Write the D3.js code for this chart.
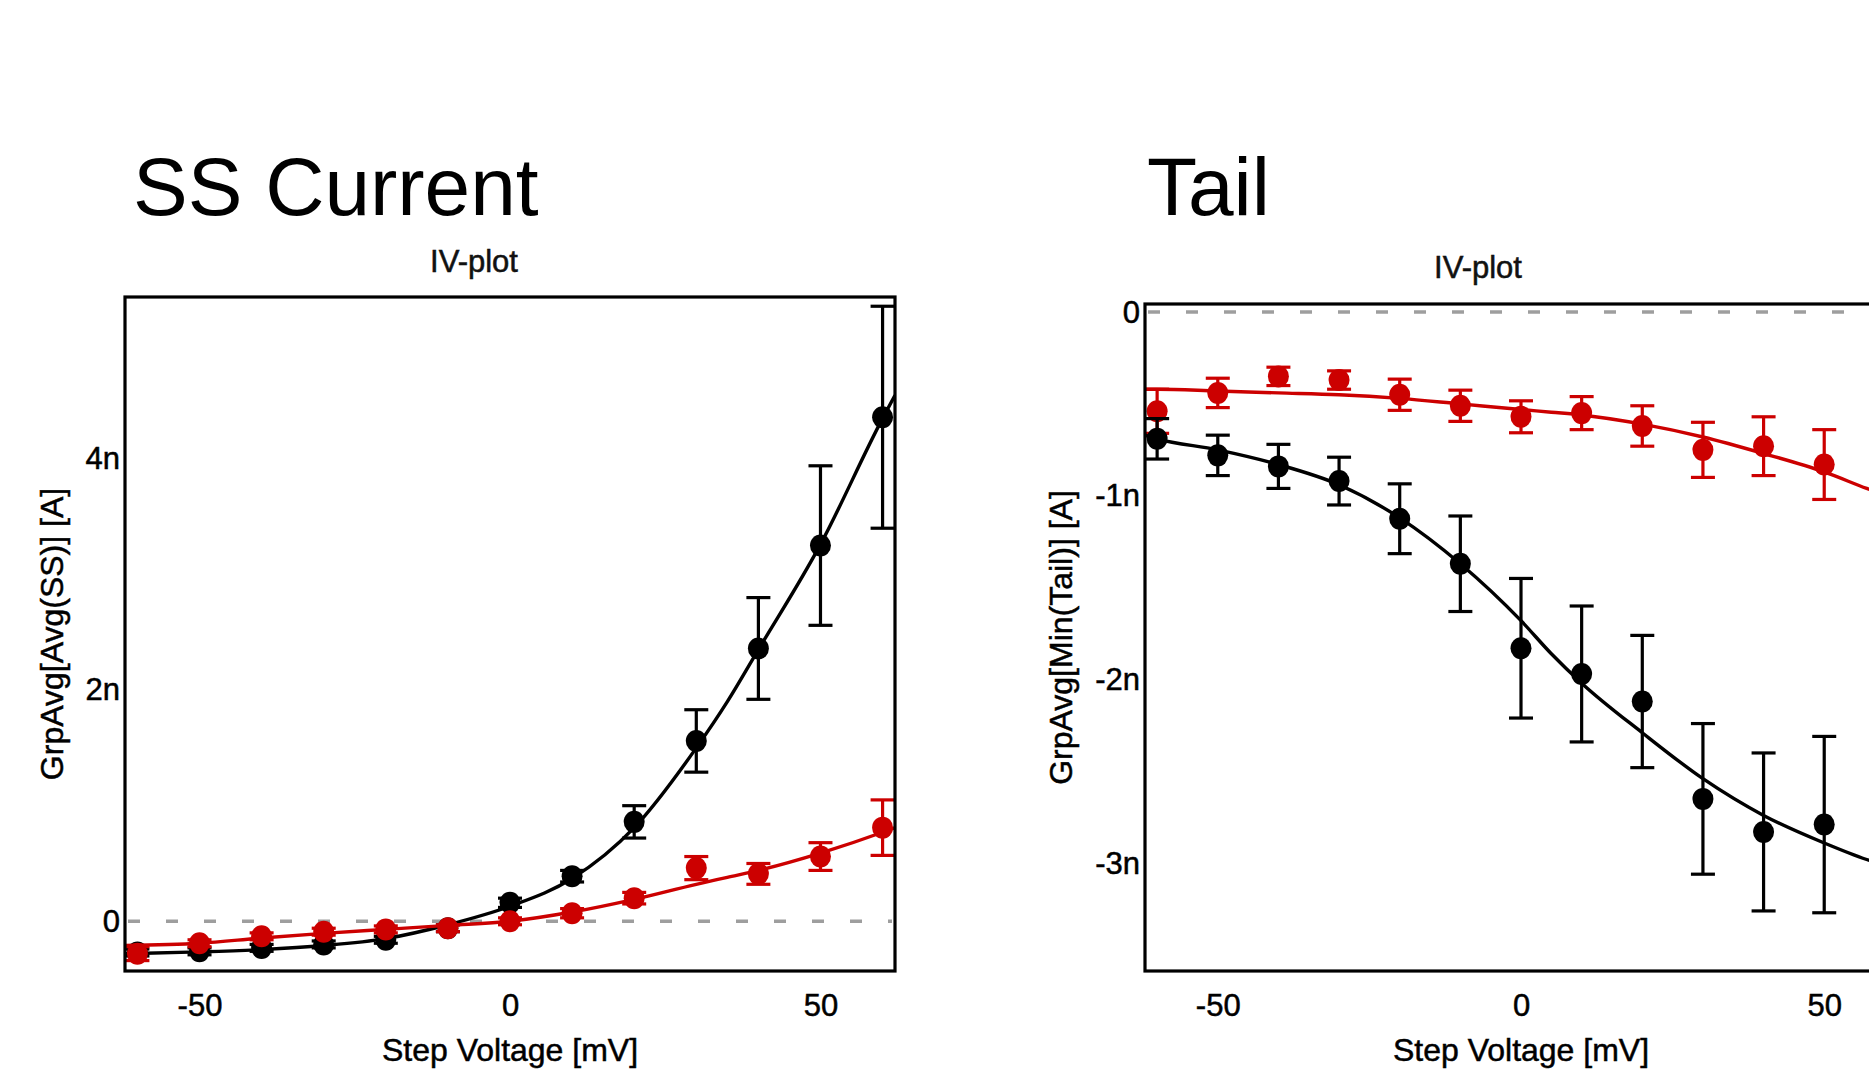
<!DOCTYPE html>
<html>
<head>
<meta charset="utf-8">
<script src="https://cdn.jsdelivr.net/npm/d3@7"></script>
<style>
  html, body { margin: 0; padding: 0; background: #fff; overflow: hidden; }
  svg { display: block; font-family: "Liberation Sans", Arial, sans-serif; }
</style>
</head>
<body>
<svg id="chart" width="1869" height="1070"></svg>
<script>
// ---------------- DATA (currents in nA, voltages in mV) ----------------
const ssVoltages   = [-60, -50, -40, -30, -20, -10, 0, 10, 20, 30, 40, 50, 60];
const ssBlack      = [-0.27, -0.26, -0.23, -0.20, -0.16, -0.06, 0.16, 0.39, 0.86, 1.56, 2.36, 3.25, 4.36];
const ssBlackErr   = [0.03, 0.03, 0.03, 0.03, 0.03, 0.03, 0.04, 0.05, 0.14, 0.27, 0.44, 0.69, 0.96];
const ssRed        = [-0.28, -0.19, -0.13, -0.09, -0.07, -0.06, 0.0, 0.07, 0.20, 0.46, 0.41, 0.56, 0.81];
const ssRedErr     = [0.06, 0.03, 0.03, 0.03, 0.03, 0.03, 0.03, 0.04, 0.05, 0.10, 0.09, 0.12, 0.24];

const ssFitV       = [-62, -50, -40, -30, -20, -10, 0, 10, 20, 30, 35, 40, 50, 60, 62];
const ssBlackFit   = [-0.28, -0.265, -0.245, -0.21, -0.15, -0.03, 0.13, 0.37, 0.81, 1.50, 1.90, 2.35, 3.26, 4.35, 4.55];
const ssRedFit     = [-0.21, -0.19, -0.145, -0.105, -0.07, -0.035, 0.0, 0.08, 0.19, 0.32, 0.38, 0.44, 0.59, 0.77, 0.81];

const tailVoltages = [-60, -50, -40, -30, -20, -10, 0, 10, 20, 30, 40, 50];
const tailBlack    = [-0.69, -0.78, -0.84, -0.92, -1.125, -1.37, -1.83, -1.97, -2.12, -2.65, -2.83, -2.79];
const tailBlackErr = [0.11, 0.11, 0.12, 0.13, 0.19, 0.26, 0.38, 0.37, 0.36, 0.41, 0.43, 0.48];
const tailRed      = [-0.54, -0.44, -0.35, -0.37, -0.45, -0.51, -0.57, -0.55, -0.62, -0.75, -0.73, -0.83];
const tailRedErr   = [0.12, 0.08, 0.05, 0.05, 0.085, 0.085, 0.087, 0.09, 0.11, 0.15, 0.16, 0.19];

const tailFitV     = [-62, -60, -50, -40, -30, -20, -10, 0, 5, 10, 20, 30, 40, 50, 57, 62];
const tailBlackFit = [-0.67, -0.69, -0.75, -0.83, -0.94, -1.12, -1.37, -1.68, -1.86, -2.02, -2.29, -2.54, -2.74, -2.89, -2.98, -3.03];
const tailRedFit   = [-0.42, -0.42, -0.43, -0.44, -0.45, -0.47, -0.50, -0.53, -0.545, -0.56, -0.61, -0.68, -0.77, -0.87, -0.96, -1.02];

const xTicks       = [-50, 0, 50];
const xTickLabels  = ["-50", "0", "50"];
const ssYTicks     = [0, 2, 4];
const ssYLabels    = ["0", "2n", "4n"];
const tailYTicks   = [0, -1, -2, -3];
const tailYLabels  = ["0", "-1n", "-2n", "-3n"];

const RED = "#cc0000", BLACK = "#000000";

// ---------------- DRAW ----------------
const svg = d3.select("#chart");

function heavy(sel) {
  return sel.attr("stroke", "#000").attr("stroke-width", 0.5).attr("paint-order", "stroke");
}

function panel(cfg) {
  const { left, right, top, bottom, yDomain, id } = cfg;
  const x = d3.scaleLinear().domain([-62, 62]).range([left, right]);
  const y = d3.scaleLinear().domain(yDomain).range([bottom, top]);
  const g = svg.append("g");

  g.append("clipPath").attr("id", id).append("rect")
    .attr("x", left).attr("y", top).attr("width", right - left).attr("height", bottom - top);

  // titles
  g.append("text").attr("x", cfg.titleX).attr("y", 215)
    .attr("font-size", 82).attr("fill", "#000").text(cfg.title);
  heavy(g.append("text").attr("x", cfg.subX).attr("y", cfg.subY).attr("text-anchor", "middle")
    .attr("font-size", 31).attr("fill", "#111").text("IV-plot"));

  // zero dashed line
  g.append("line").attr("x1", left + 3).attr("x2", right - 3)
    .attr("y1", y(0)).attr("y2", y(0))
    .attr("stroke", "#9e9e9e").attr("stroke-width", 3.5).attr("stroke-dasharray", "12,26");

  const plot = g.append("g").attr("clip-path", `url(#${id})`);
  const line = d3.line().x(d => x(d[0])).y(d => y(d[1])).curve(d3.curveMonotoneX);

  function series(v, vals, errs, fv, fit, color) {
    plot.append("path").datum(fv.map((d, i) => [d, fit[i]]))
      .attr("d", line).attr("fill", "none").attr("stroke", color).attr("stroke-width", 3.4);
    const pts = v.map((d, i) => ({ v: d, m: vals[i], e: errs[i] }));
    const eb = plot.append("g").attr("stroke", color).attr("stroke-width", 3.2);
    eb.selectAll(".v").data(pts).join("line")
      .attr("x1", d => x(d.v)).attr("x2", d => x(d.v))
      .attr("y1", d => y(d.m - d.e)).attr("y2", d => y(d.m + d.e));
    eb.selectAll(".t").data(pts).join("line")
      .attr("x1", d => x(d.v) - 12).attr("x2", d => x(d.v) + 12)
      .attr("y1", d => y(d.m + d.e)).attr("y2", d => y(d.m + d.e));
    eb.selectAll(".b").data(pts).join("line")
      .attr("x1", d => x(d.v) - 12).attr("x2", d => x(d.v) + 12)
      .attr("y1", d => y(d.m - d.e)).attr("y2", d => y(d.m - d.e));
    plot.append("g").selectAll("ellipse").data(pts).join("ellipse")
      .attr("cx", d => x(d.v)).attr("cy", d => y(d.m))
      .attr("rx", 10.5).attr("ry", 11).attr("fill", color);
  }
  cfg.order.forEach(s => series(...s));

  // frame
  g.append("rect").attr("x", left).attr("y", top)
    .attr("width", right - left).attr("height", bottom - top)
    .attr("fill", "none").attr("stroke", "#000").attr("stroke-width", 3.2);

  // axes
  const xa = g.append("g").attr("transform", `translate(0,${bottom})`)
    .call(d3.axisBottom(x).tickValues(xTicks).tickSize(0).tickPadding(23)
      .tickFormat((d, i) => xTickLabels[i]));
  xa.select(".domain").remove();
  heavy(xa.selectAll("text").attr("font-size", 31).attr("font-family", "Liberation Sans, Arial, sans-serif").attr("fill", "#000"));

  const ya = g.append("g").attr("transform", `translate(${left},0)`)
    .call(d3.axisLeft(y).tickValues(cfg.yTicks).tickSize(0).tickPadding(5)
      .tickFormat((d, i) => cfg.yLabels[i]));
  ya.select(".domain").remove();
  heavy(ya.selectAll("text").attr("font-size", 31).attr("font-family", "Liberation Sans, Arial, sans-serif").attr("fill", "#000"));

  // axis titles
  heavy(g.append("text").attr("x", x(0)).attr("y", 1061).attr("text-anchor", "middle")
    .attr("font-size", 32).attr("fill", "#000").text("Step Voltage [mV]"));
  heavy(g.append("text").attr("transform", `translate(${cfg.yTitleX},${(top + bottom) / 2}) rotate(-90)`)
    .attr("text-anchor", "middle").attr("font-size", 32).attr("fill", "#000").text(cfg.yTitle));
}

panel({
  id: "clipSS", left: 125, right: 895, top: 297, bottom: 971, yDomain: [-0.43, 5.40],
  title: "SS Current", titleX: 133, subX: 474, subY: 272,
  yTicks: ssYTicks, yLabels: ssYLabels, yTitle: "GrpAvg[Avg(SS)] [A]", yTitleX: 63,
  order: [
    [ssVoltages, ssBlack, ssBlackErr, ssFitV, ssBlackFit, BLACK],
    [ssVoltages, ssRed, ssRedErr, ssFitV, ssRedFit, RED]
  ]
});

panel({
  id: "clipTail", left: 1145, right: 1897, top: 304, bottom: 971, yDomain: [-3.587, 0.044],
  title: "Tail", titleX: 1147, subX: 1478, subY: 278,
  yTicks: tailYTicks, yLabels: tailYLabels, yTitle: "GrpAvg[Min(Tail)] [A]", yTitleX: 1072,
  order: [
    [tailVoltages, tailRed, tailRedErr, tailFitV, tailRedFit, RED],
    [tailVoltages, tailBlack, tailBlackErr, tailFitV, tailBlackFit, BLACK]
  ]
});
</script>
</body>
</html>
